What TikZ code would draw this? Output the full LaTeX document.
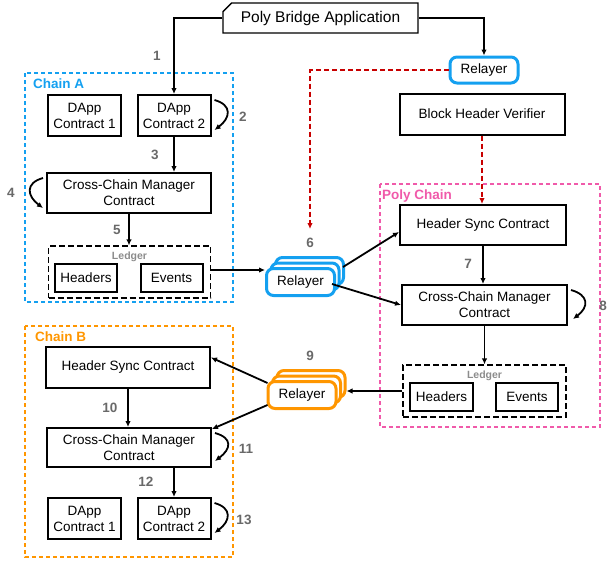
\documentclass[tikz,border=0pt]{standalone}
\usepackage{fontspec}
\setmainfont{Liberation Sans}
\usetikzlibrary{arrows.meta,shapes.misc}
\definecolor{chainblue}{RGB}{20,160,240}
\definecolor{chainorange}{RGB}{255,150,0}
\definecolor{polypink}{RGB}{240,90,170}
\definecolor{syncred}{RGB}{200,0,0}
\definecolor{steptext}{RGB}{105,105,105}
\definecolor{ledgertext}{RGB}{140,140,140}

\begin{document}
\begin{tikzpicture}[x = 1pt, y = -1pt, >={Latex[length=6pt,width=5.5pt]},
    every node/.style = {font = \fontsize{13.5}{16}\selectfont, inner sep = 1pt},
    box/.style = {draw, line width = 2pt, align = center, minimum height = 40pt},
    dapp/.style = {box, minimum width = 73pt, minimum height = 41pt},
    wide/.style = {box, minimum width = 164pt},
    item/.style = {draw, line width = 2pt, minimum width = 62pt, minimum height = 28pt},
    relay/.style = {draw = #1, fill = white, line width = 3pt, rounded corners = 7pt,
        minimum width = 68pt, minimum height = 27pt},
    chain/.style = {draw = #1, line width = 2.2pt, dash pattern = on 4pt off 3pt},
    ledger/.style = {draw, line width = 1.2pt, dash pattern = on 6pt off 3pt,
        minimum width = 162pt, minimum height = 52pt},
    ledgername/.style = {text = ledgertext, font = \fontsize{10.5}{12}\selectfont\bfseries},
    flow/.style = {->, line width = 1.8pt},
    sync/.style = {->, syncred, line width = 1.8pt, dash pattern = on 5pt off 3pt},
    stepnum/.style = {text = steptext, font = \fontsize{13.5}{16}\selectfont\bfseries},
    chainname/.style = {anchor = west, text = #1, font = \fontsize{13.5}{16}\selectfont\bfseries}]
    \useasboundingbox (0,0) rectangle (607,562);

    % containers
    \draw[chain = chainblue] (25,73) rectangle (233,302);
    \draw[chain = polypink] (380,184) rectangle (600,427);
    \draw[chain = chainorange] (25,326) rectangle (233,557);
    \node[chainname = chainblue] at (32,84) {Chain A};
    \node[chainname = polypink] at (381,196) {Poly Chain};
    \node[chainname = chainorange] at (34,337) {Chain B};

    % top
    \node[draw, line width = 1.4pt, chamfered rectangle, chamfered rectangle corners = north west,
        chamfered rectangle xsep = 5pt, minimum width = 195pt, minimum height = 30pt,
        font = \fontsize{15.5}{18}\selectfont] (app) at (320.5,18) {Poly Bridge Application};
    \node[relay = chainblue, minimum width = 68pt, minimum height = 26pt] (relTop) at (484,70) {Relayer};
    \node[box, minimum width = 165pt, minimum height = 41pt] (verifier) at (482,114) {Block Header Verifier};

    % chain A
    \node[dapp] (dappA1) at (84.5,115.5) {DApp\\Contract 1};
    \node[dapp] (dappA2) at (174,115.5) {DApp\\Contract 2};
    \node[wide] (ccmA) at (129,193) {Cross-Chain Manager\\Contract};
    \node[ledger] (ledgerA) at (129.5,272) {};
    \node[ledgername] at ([yshift=-11pt]ledgerA.north) {Ledger};
    \node[item] (headersA) at (86,278) {Headers};
    \node[item] (eventsA) at (171.5,278) {Events};

    % relayers 6
    \node[relay = chainblue] (relA3) at (309.5,271) {};
    \node[relay = chainblue] (relA2) at (305,276.5) {};
    \node[relay = chainblue] (relA) at (300.5,282) {Relayer};

    % poly chain
    \node[wide, minimum width = 166pt] (hscP) at (483,225) {Header Sync Contract};
    \node[wide, minimum width = 165pt] (ccmP) at (484.5,305) {Cross-Chain Manager\\Contract};
    \node[ledger, minimum width = 163pt] (ledgerP) at (484.5,391) {};
    \node[ledgername] at ([yshift=-11pt]ledgerP.north) {Ledger};
    \node[item, minimum width = 63pt] (headersP) at (441.5,397) {Headers};
    \node[item] (eventsP) at (527,397) {Events};

    % relayers 9
    \node[relay = chainorange] (relB3) at (311,384) {};
    \node[relay = chainorange] (relB2) at (306.5,389.5) {};
    \node[relay = chainorange] (relB) at (302,395) {Relayer};

    % chain B
    \node[wide, minimum height = 41pt] (hscB) at (128,367.5) {Header Sync Contract};
    \node[wide, minimum height = 39pt] (ccmB) at (129,447.5) {Cross-Chain Manager\\Contract};
    \node[dapp] (dappB1) at (84.5,518.5) {DApp\\Contract 1};
    \node[dapp] (dappB2) at (174,518.5) {DApp\\Contract 2};

    % step numbers
    \node[stepnum] (s1) at (157,56) {1};
    \node[stepnum] (s2) at (243,117) {2};
    \node[stepnum] (s3) at (155,155) {3};
    \node[stepnum] (s4) at (11,193) {4};
    \node[stepnum] (s5) at (117,230) {5};
    \node[stepnum] (s6) at (310,243) {6};
    \node[stepnum] (s7) at (468,264) {7};
    \node[stepnum] (s8) at (603,306) {8};
    \node[stepnum] (s9) at (310,356) {9};
    \node[stepnum] (s10) at (110,408) {10};
    \node[stepnum] (s11) at (246,449) {11};
    \node[stepnum] (s12) at (146,482) {12};
    \node[stepnum] (s13) at (244,520) {13};

    % arrows
    \draw[flow] (app.west) -| (dappA2.north);
    \draw[flow] (app.east) -| (relTop.north);
    \draw[sync] (relTop.west) -| ([yshift=8pt]s6.north);
    \draw[sync] (verifier.south) -- (verifier.south |- hscP.north);
    \draw[flow] (dappA2.south) -- (dappA2.south |- ccmA.north);
    \draw[flow] (ccmA.south) -- (ccmA.south |- ledgerA.north);
    \draw[flow] ([yshift=2pt]ledgerA.east) -- ([yshift=2pt]ledgerA.east -| relA.west);
    \draw[flow] ([xshift=-2pt,yshift=4pt]relA3.east) -- ([yshift=-7pt]hscP.west);
    \draw[flow] ([xshift=-4pt,yshift=-2pt]relA.east) -- (ccmP.west);
    \draw[flow] (hscP.south) -- (hscP.south |- ccmP.north);
    \draw[flow] (ccmP.south) -- (ccmP.south |- ledgerP.north);
    \draw[flow] (ledgerP.west) -- (ledgerP.west -| relB3.east);
    \draw[flow] ([xshift=1pt,yshift=-3pt]relB.north west) -- ([yshift=10pt]hscB.east);
    \draw[flow] ([xshift=1pt,yshift=5pt]relB.south west) -- ([yshift=-2pt]ccmB.north east);
    \draw[flow] (hscB.south) -- (hscB.south |- ccmB.north);
    \draw[flow] ([xshift=45pt]ccmB.south) -- ([xshift=45pt]ccmB.south |- dappB2.north);

    % loops
    \draw[flow] ([xshift=3pt,yshift=-6pt]dappA2.north east) .. controls +(18,5) and +(16,-12) .. ([xshift=3pt,yshift=7pt]dappA2.south east);
    \draw[flow] ([xshift=-3pt,yshift=-6pt]ccmA.north west) .. controls +(-18,5) and +(-16,-12) .. ([xshift=-3pt,yshift=6pt]ccmA.south west);
    \draw[flow] ([xshift=3pt,yshift=-6pt]ccmP.north east) .. controls +(18,5) and +(16,-12) .. ([xshift=5pt,yshift=7pt]ccmP.south east);
    \draw[flow] ([xshift=3pt,yshift=-6pt]ccmB.north east) .. controls +(18,5) and +(16,-12) .. ([xshift=3pt,yshift=7pt]ccmB.south east);
    \draw[flow] ([xshift=3pt,yshift=-6pt]dappB2.north east) .. controls +(18,5) and +(16,-12) .. ([xshift=3pt,yshift=7pt]dappB2.south east);
\end{tikzpicture}
\end{document}
